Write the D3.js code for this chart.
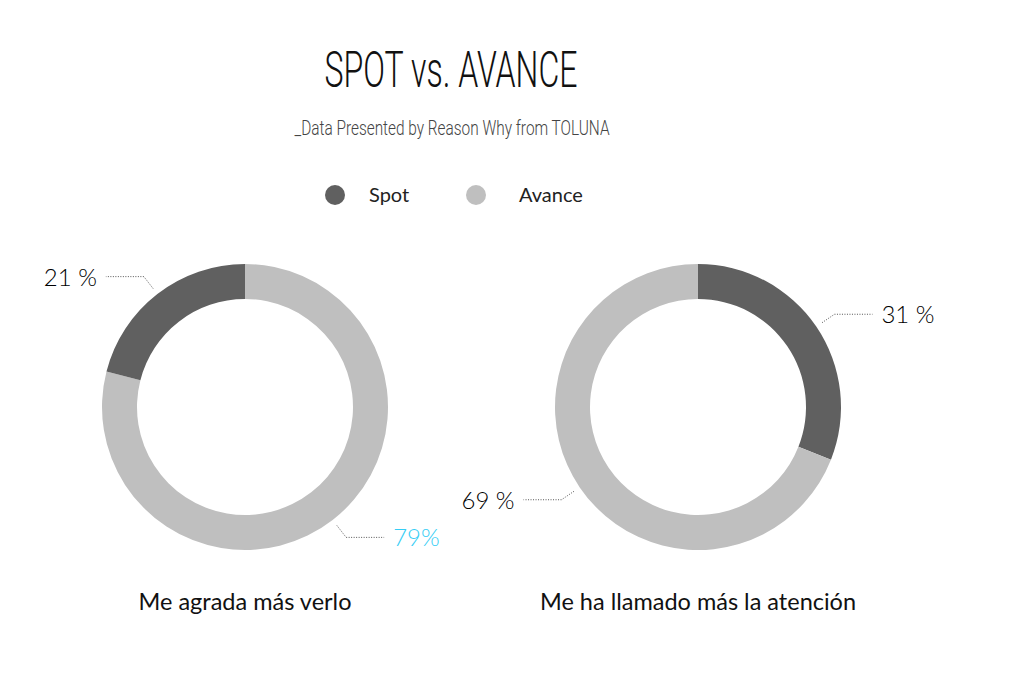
<!DOCTYPE html>
<html><head><meta charset="utf-8">
<script src="https://cdn.jsdelivr.net/npm/d3@7"></script>
<style>body{margin:0;background:#fff}svg{display:block}</style>
</head><body>
<svg id="c" width="1015" height="694"></svg>
<script>
const title = "SPOT vs. AVANCE";
const subtitle = "_Data Presented by Reason Why from TOLUNA";
const seriesNames = ["Spot", "Avance"];
const categories = ["Me agrada más verlo", "Me ha llamado más la atención"];
const spotValues = [21, 31];
const avanceValues = [79, 69];
const labelTexts = [["21 %", "79%"], ["31 %", "69 %"]];
// order of slices going clockwise from 12 o'clock in each donut
const sliceOrder = [["Avance", "Spot"], ["Spot", "Avance"]];

const colors = {Spot: "#606060", Avance: "#bfbfbf"};
const svg = d3.select("#c");

svg.append("text").attr("x", 451).attr("y", 87).attr("text-anchor", "middle")
  .attr("font-family", "Roboto").attr("font-weight", 300).attr("font-size", 50)
  .attr("textLength", 253).attr("lengthAdjust", "spacingAndGlyphs")
  .attr("fill", "#111").text(title);
svg.append("text").attr("x", 452).attr("y", 135).attr("text-anchor", "middle")
  .attr("font-family", "Roboto").attr("font-weight", 300).attr("font-size", 20)
  .attr("textLength", 315).attr("lengthAdjust", "spacingAndGlyphs")
  .attr("fill", "#444").text(subtitle);

// legend
const legX = [335, 476];
seriesNames.forEach((s, i) => {
  svg.append("circle").attr("cx", legX[i]).attr("cy", 195).attr("r", 10).attr("fill", colors[s]);
  svg.append("text").attr("x", legX[i] + 34 + (i ? 9 : 0)).attr("y", 202)
    .attr("font-family", "Lato").attr("font-size", 20).attr("fill", "#222").text(s);
});

const centers = [245, 698];
const cy = 407, R = 143, r = 108;
const arc = d3.arc().innerRadius(r).outerRadius(R);
const pie = d3.pie().sort(null).value(d => d.v);

categories.forEach((cat, ci) => {
  const vals = {Spot: spotValues[ci], Avance: avanceValues[ci]};
  const data = sliceOrder[ci].map(s => ({s, v: vals[s]}));
  const g = svg.append("g").attr("transform", `translate(${centers[ci]},${cy})`);
  const arcs = pie(data);
  g.selectAll("path").data(arcs).join("path").attr("d", arc).attr("fill", d => colors[d.data.s]);

  arcs.forEach(a => {
    const mid = (a.startAngle + a.endAngle) / 2;
    const p1 = [150 * Math.sin(mid), -150 * Math.cos(mid)];
    const p2 = [165 * Math.sin(mid), -165 * Math.cos(mid)];
    const right = Math.sin(mid) > 0;
    const p3 = [p2[0] + (right ? 38 : -38), p2[1]];
    g.append("path").attr("d", d3.line()([p1, p2, p3])).attr("fill", "none")
      .attr("stroke", "#555").attr("stroke-width", 1).attr("stroke-dasharray", "1,1.5");
    const idx = seriesNames.indexOf(a.data.s);
    const txt = labelTexts[ci][idx];
    g.append("text").attr("x", p3[0] + (right ? 9 : -9)).attr("y", p3[1] + 9)
      .attr("text-anchor", right ? "start" : "end")
      .attr("font-family", "Lato").attr("font-weight", 300).attr("font-size", 24)
      .attr("fill", (ci === 0 && a.data.s === "Avance") ? "#35cdf5" : "#000").text(txt);
  });

  svg.append("text").attr("x", centers[ci]).attr("y", 610).attr("text-anchor", "middle")
    .attr("font-family", "Lato").attr("font-size", 23.5).attr("fill", "#111").text(cat);
});
</script>
</body></html>
